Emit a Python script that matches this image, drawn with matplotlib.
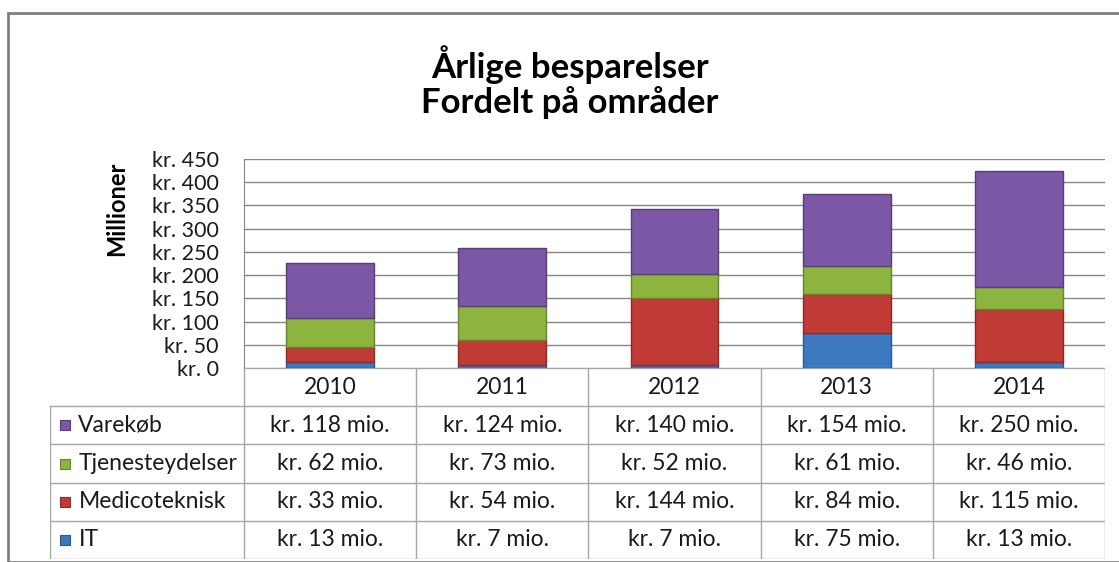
import numpy as np
import matplotlib.pyplot as plt
from matplotlib.patches import Rectangle

plt.rcParams['font.family'] = ['Lato', 'DejaVu Sans']

years = ['2010', '2011', '2012', '2013', '2014']
series_names = ['IT', 'Medicoteknisk', 'Tjenesteydelser', 'Varekøb']
it_vals = [13, 7, 7, 75, 13]
medico_vals = [33, 54, 144, 84, 115]
tjeneste_vals = [62, 73, 52, 61, 46]
varekob_vals = [118, 124, 140, 154, 250]
y_ticks = [0, 50, 100, 150, 200, 250, 300, 350, 400, 450]

colors = ['#3c78c0', '#c03b36', '#8cb43e', '#7b57a6']
edges = ['#2a5a96', '#8e2a26', '#65852a', '#573d7c']
grid_col = '#868686'
table_col = '#a6a6a6'
txt_col = '#1a1a1a'

W, H = 1119, 562
fig = plt.figure(figsize=(W / 100, H / 100), dpi=100)

# outer chart border (only top and left visible, rest is cropped)
fig.patches.append(Rectangle((8 / W, 0), 1.2, 1 - 13 / H, transform=fig.transFigure,
                             fill=False, edgecolor='#808080', linewidth=2))

# plot area
left, right, top, bottom = 244, 1105, 159, 368
ax = fig.add_axes([left / W, 1 - bottom / H, (right - left) / W, (bottom - top) / H])
x = np.arange(len(years))
values = [it_vals, medico_vals, tjeneste_vals, varekob_vals]
base = np.zeros(len(years))
for vals, c, e in zip(values, colors, edges):
    ax.bar(x, vals, bottom=base, width=0.51, color=c, edgecolor=e, linewidth=1.0, zorder=3)
    base += np.array(vals)

ax.set_xlim(-0.5, 4.5)
ax.set_ylim(0, 450)
ax.set_yticks(y_ticks)
ax.set_yticklabels([f'kr. {v}' for v in y_ticks], fontsize=15.5, color=txt_col)
ax.tick_params(axis='y', length=0, pad=18)
ax.set_xticks([])
ax.yaxis.grid(True, color=grid_col, linewidth=1)
for s in ['top', 'right', 'bottom']:
    ax.spines[s].set_visible(False)
ax.spines['left'].set_color(grid_col)
ax.set_ylabel('Millioner', fontsize=17, fontweight='bold')
ax.yaxis.set_label_coords((128 - left) / (right - left), 0.76)

# data table below the plot area
unit = (right - left) / len(years)
label_w = (left - 50) / unit
x0 = -0.5 - label_w
tax = fig.add_axes([50 / W, 1 - 559 / H, (right - 50) / W, (559 - bottom) / H])
tax.set_xlim(x0, 4.5)
tax.set_ylim(5, 0)
tax.axis('off')

tax.plot([-0.5, 4.5], [0, 0], color=table_col, lw=1)
for r in range(1, 6):
    tax.plot([x0, 4.5], [r, r], color=table_col, lw=1)
tax.plot([x0, x0], [1, 5], color=table_col, lw=1)
for k in range(len(years) + 1):
    tax.plot([k - 0.5, k - 0.5], [0, 5], color=table_col, lw=1)

for i, yr in enumerate(years):
    tax.text(i, 0.5, yr, ha='center', va='center', fontsize=16.5, color=txt_col)

rows = list(zip(series_names, values, colors, edges))[::-1]
for r, (name, vals, c, e) in enumerate(rows, start=1):
    tax.plot(x0 + 0.088, r + 0.5, marker='s', markersize=7.5, color=c,
             markeredgecolor=e, markeredgewidth=0.8)
    tax.text(x0 + 0.165, r + 0.5, name, ha='left', va='center', fontsize=16.5, color=txt_col)
    for i, v in enumerate(vals):
        tax.text(i, r + 0.5, f'kr. {v} mio.', ha='center', va='center', fontsize=16.5,
                 color=txt_col)

fig.text(570 / W, 1 - 82 / H, 'Årlige besparelser\nFordelt på områder', ha='center',
         va='center', fontsize=25, fontweight='bold', linespacing=1.1)

fig.savefig('out.png', dpi=100)
